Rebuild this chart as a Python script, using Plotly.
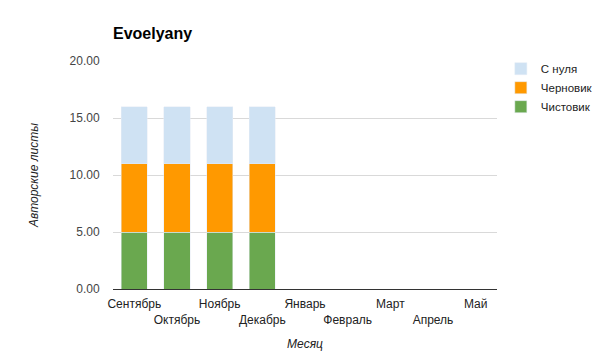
import plotly.graph_objects as go

months = ["Сентябрь", "Октябрь", "Ноябрь", "Декабрь", "Январь", "Февраль", "Март", "Апрель", "Май"]
chistovik = [5, 5, 5, 5, 0, 0, 0, 0, 0]
chernovik = [6, 6, 6, 6, 0, 0, 0, 0, 0]
s_nulya = [5, 5, 5, 5, 0, 0, 0, 0, 0]

tick_text = [m if i % 2 == 0 else "<br>" + m for i, m in enumerate(months)]

fig = go.Figure()
fig.add_trace(go.Bar(name="Чистовик", x=months, y=chistovik, marker_color="#6aa84f"))
fig.add_trace(go.Bar(name="Черновик", x=months, y=chernovik, marker_color="#ff9900"))
fig.add_trace(go.Bar(name="С нуля", x=months, y=s_nulya, marker_color="#cfe2f3"))

fig.update_layout(
    barmode="stack",
    bargap=0.39,
    width=605,
    height=351,
    margin=dict(l=113, r=108, t=61, b=62, autoexpand=False),
    paper_bgcolor="white",
    plot_bgcolor="white",
    font=dict(family="Liberation Sans, Arial, sans-serif", size=11, color="#444"),
    title=dict(text="<b>Evoelyany</b>", x=113 / 605, xanchor="left", y=1 - 33 / 351, yanchor="middle",
               font=dict(size=16, color="#000")),
    legend=dict(x=1.01, y=1.03, xanchor="left", yanchor="top", traceorder="reversed",
                font=dict(size=11.5, color="#222"), tracegroupgap=4),
    xaxis=dict(
        tickmode="array", tickvals=months, ticktext=tick_text, tickangle=0, automargin=False,
        showline=True, linecolor="#333", linewidth=1,
        showgrid=False, ticks="outside", ticklen=4, tickcolor="rgba(0,0,0,0)",
        tickfont=dict(size=12, color="#222"),
        title=dict(text="<i>Месяц</i>", font=dict(size=12, color="#222"), standoff=14),
    ),
    yaxis=dict(
        range=[0, 20], dtick=5, tickformat=".2f", automargin=False,
        showgrid=True, gridcolor="#d9d9d9", zeroline=False,
        ticks="outside", ticklen=10, tickcolor="rgba(0,0,0,0)",
        tickfont=dict(size=12, color="#444"),
        title=dict(text="<i>Авторские листы</i>", font=dict(size=12, color="#222"), standoff=28),
    ),
)

fig.write_html("out.html")
